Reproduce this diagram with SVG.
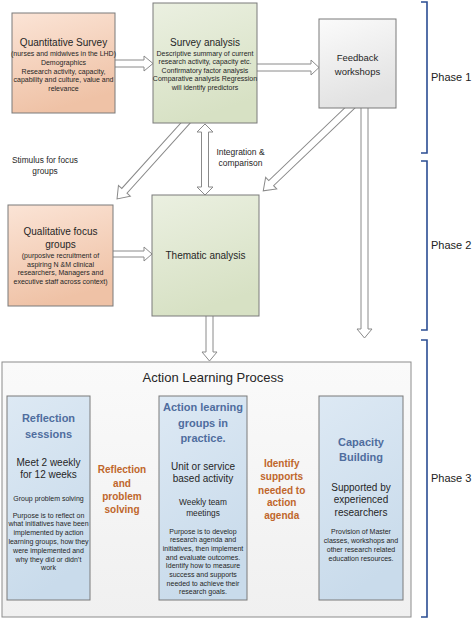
<svg xmlns="http://www.w3.org/2000/svg" width="472" height="621" viewBox="0 0 472 621">
<defs>
<linearGradient id="gPeach" x1="0" y1="0" x2="0.3" y2="1"><stop offset="0" stop-color="#fbe4d6"/><stop offset="1" stop-color="#efc2a6"/></linearGradient>
<linearGradient id="gGreen" x1="0" y1="0" x2="0.3" y2="1"><stop offset="0" stop-color="#ebf0e1"/><stop offset="1" stop-color="#d7e1c4"/></linearGradient>
<linearGradient id="gGray" x1="0" y1="0" x2="0.3" y2="1"><stop offset="0" stop-color="#fbfbfb"/><stop offset="1" stop-color="#e2e2e2"/></linearGradient>
<linearGradient id="gBlue" x1="0" y1="0" x2="0.3" y2="1"><stop offset="0" stop-color="#dde9f4"/><stop offset="1" stop-color="#c9dbeb"/></linearGradient>
<linearGradient id="gOuter" x1="0" y1="0" x2="0" y2="1"><stop offset="0" stop-color="#fafafa"/><stop offset="1" stop-color="#f0f0f0"/></linearGradient>
</defs>
<style>
text{font-family:"Liberation Sans",Arial,sans-serif;fill:#262626;text-anchor:middle}
.box{stroke:#7a7a7a;stroke-width:1}
.hollow{fill:#ffffff;stroke:#8a8a8a;stroke-width:1}
.orange{fill:#e8914c;stroke:#b85f25;stroke-width:0.8}
.brk{fill:none;stroke:#2b4d93;stroke-width:1.6}
.t{font-size:10px}
.s{font-size:7px}
.bt{font-size:11px;font-weight:bold;fill:#4f6d9e}
.ot{font-size:10px;font-weight:bold;fill:#c0662b}
.ph{font-size:11px;text-anchor:start;fill:#222}
</style>

<g id="connectors">
<polygon class="hollow" points="110,60 144,60 144,56 153,63.5 144,71 144,67 110,67"/>
<polygon class="hollow" points="252,64 311,64 311,60 319,67.5 311,75 311,71 252,71"/>
<polygon class="hollow" points="108,251 144,251 144,247 152,254 144,261 144,257 108,257"/>
<polygon class="hollow" points="205,124 213,132 208.5,132 208.5,187 213,187 205,195 197,187 201.5,187 201.5,132 197,132"/>
<polygon class="hollow" points="206,312 213,312 213,352 217,352 209.5,361 202,352 206,352"/>
<polygon class="hollow" points="361,104 368,104 368,329 372,329 364.5,338 357,329 361,329"/>
<polygon class="hollow" transform="translate(190,118) rotate(132.03)" points="0,-3.5 98,-3.5 98,-8 109,0 98,8 98,3.5 0,3.5"/>
<polygon class="hollow" transform="translate(355,103) rotate(136.27)" points="0,-3.5 116,-3.5 116,-8 127,0 116,8 116,3.5 0,3.5"/>
<polygon class="orange" points="95,443 101,436.5 101,440 144,440 144,436.5 150,443 144,449.5 144,446 101,446 101,449.5"/>
<polygon class="orange" points="95,546 101,539.5 101,543 144,543 144,539.5 150,546 144,552.5 144,549 101,549 101,552.5"/>
<polygon class="orange" points="252,443 258,436.5 258,440 304,440 304,436.5 310,443 304,449.5 304,446 258,446 258,449.5"/>
<polygon class="orange" points="252,546 258,539.5 258,543 304,543 304,539.5 310,546 304,552.5 304,549 258,549 258,552.5"/>
</g>

<g id="quantitative-survey">
<rect class="box" x="12" y="13" width="103" height="100" fill="url(#gPeach)"/>
<text class="t" x="63.5" y="46">Quantitative Survey</text>
<text class="s" x="63.5" y="56">(nurses and midwives in the LHD)</text>
<text class="s" x="63.5" y="65">Demographics</text>
<text class="s" x="63.5" y="73.5">Research activity, capacity,</text>
<text class="s" x="63.5" y="82">capability and culture, value and</text>
<text class="s" x="63.5" y="90.5">relevance</text>
</g>

<g id="survey-analysis">
<rect class="box" x="153" y="3" width="104" height="120" fill="url(#gGreen)"/>
<text class="t" x="205" y="46">Survey analysis</text>
<text class="s" x="205" y="55.5">Descriptive summary of current</text>
<text class="s" x="205" y="64">research activity, capacity etc.</text>
<text class="s" x="205" y="72.5">Confirmatory factor analysis</text>
<text class="s" x="205" y="81">Comparative analysis Regression</text>
<text class="s" x="205" y="90">will identify predictors</text>
</g>

<g id="feedback-workshops">
<rect class="box" x="319" y="19" width="77" height="89" fill="url(#gGray)"/>
<text x="357.5" y="60.5" style="font-size:9.5px">Feedback</text>
<text x="357.5" y="74.5" style="font-size:9.5px">workshops</text>
</g>

<g id="labels">
<text x="45" y="163" style="font-size:8.3px">Stimulus for focus</text>
<text x="45" y="174" style="font-size:8.3px">groups</text>
<text x="240.5" y="155" style="font-size:8.5px">Integration &amp;</text>
<text x="240.5" y="165.5" style="font-size:8.5px">comparison</text>
</g>

<g id="qualitative-focus-groups">
<rect class="box" x="8" y="205" width="105" height="101" fill="url(#gPeach)"/>
<text class="t" x="60.5" y="235">Qualitative  focus</text>
<text class="t" x="60.5" y="248">groups</text>
<text class="s" x="60.5" y="258">(purposive recruitment of</text>
<text class="s" x="60.5" y="266.5">aspiring N &amp;M clinical</text>
<text class="s" x="60.5" y="275">researchers, Managers and</text>
<text class="s" x="60.5" y="283.5">executive staff across context)</text>
</g>

<g id="thematic-analysis">
<rect class="box" x="152" y="195" width="107" height="121" fill="url(#gGreen)"/>
<text class="t" x="205.5" y="258.5">Thematic analysis</text>
</g>

<g id="action-learning-process">
<rect x="2" y="362" width="409" height="255" fill="url(#gOuter)" stroke="#8c8c8c" stroke-width="1"/>
<text x="213" y="381.5" style="font-size:13px">Action Learning Process</text>
</g>

<g id="reflection-sessions">
<rect class="box" x="7" y="396" width="83" height="204" fill="url(#gBlue)"/>
<text class="bt" x="48.5" y="422">Reflection</text>
<text class="bt" x="48.5" y="438">sessions</text>
<text class="t" x="48.5" y="465.5">Meet 2 weekly</text>
<text class="t" x="48.5" y="477.5">for 12 weeks</text>
<text class="s" x="48.5" y="500.5">Group problem solving</text>
<text class="s" x="48.5" y="517.5">Purpose is to reflect on</text>
<text class="s" x="48.5" y="526.3">what initiatives have been</text>
<text class="s" x="48.5" y="535.1">implemented by action</text>
<text class="s" x="48.5" y="543.9">learning groups, how they</text>
<text class="s" x="48.5" y="552.7">were implemented and</text>
<text class="s" x="48.5" y="561.5">why they did or didn’t</text>
<text class="s" x="48.5" y="570.3">work</text>
</g>

<g id="action-learning-groups">
<rect class="box" x="159" y="396" width="88" height="204" fill="url(#gBlue)"/>
<text class="bt" x="203" y="411">Action learning</text>
<text class="bt" x="203" y="427">groups in</text>
<text class="bt" x="203" y="442">practice.</text>
<text class="t" x="203" y="469.5">Unit or service</text>
<text class="t" x="203" y="481.5">based activity</text>
<text x="203" y="505" style="font-size:8.3px">Weekly team</text>
<text x="203" y="516" style="font-size:8.3px">meetings</text>
<text class="s" x="203" y="533.5">Purpose is to develop</text>
<text class="s" x="203" y="542.2">research  agenda and</text>
<text class="s" x="203" y="550.9">initiatives, then implement</text>
<text class="s" x="203" y="559.6">and evaluate outcomes.</text>
<text class="s" x="203" y="568.3">Identify how to measure</text>
<text class="s" x="203" y="577">success and supports</text>
<text class="s" x="203" y="585.7">needed to achieve their</text>
<text class="s" x="203" y="594.4">research goals.</text>
</g>

<g id="capacity-building">
<rect class="box" x="319" y="396" width="84" height="204" fill="url(#gBlue)"/>
<text class="bt" x="361" y="446">Capacity</text>
<text class="bt" x="361" y="461">Building</text>
<text class="t" x="361" y="490.5">Supported by</text>
<text class="t" x="361" y="503">experienced</text>
<text class="t" x="361" y="516">researchers</text>
<text class="s" x="361" y="534">Provision of Master</text>
<text class="s" x="361" y="543">classes, workshops and</text>
<text class="s" x="361" y="551.8">other research related</text>
<text class="s" x="361" y="560.8">education resources.</text>
</g>

<g id="reflection-label">
<text class="ot" x="122" y="473">Reflection</text>
<text class="ot" x="122" y="486.5">and</text>
<text class="ot" x="122" y="499.8">problem</text>
<text class="ot" x="122" y="513">solving</text>
</g>

<g id="identify-label">
<text class="ot" x="281.7" y="467">Identify</text>
<text class="ot" x="281.7" y="480.4">supports</text>
<text class="ot" x="281.7" y="493.7">needed to</text>
<text class="ot" x="281.7" y="506.4">action</text>
<text class="ot" x="281.7" y="519">agenda</text>
</g>

<g id="phases">
<path class="brk" d="M421,2 H427 V153 H421"/>
<text class="ph" x="431" y="81">Phase 1</text>
<path class="brk" d="M421,161 H427 V330 H421"/>
<text class="ph" x="431" y="249">Phase 2</text>
<path class="brk" d="M421,340 H427 V617 H421"/>
<text class="ph" x="431" y="482">Phase 3</text>
</g>
</svg>
